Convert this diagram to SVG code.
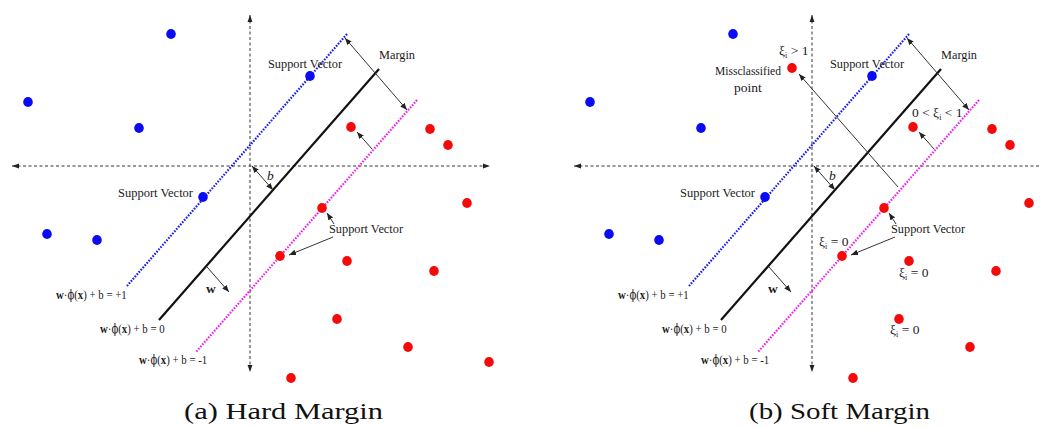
<svg xmlns="http://www.w3.org/2000/svg" width="1040" height="428" viewBox="0 0 1040 428">
<style>
.t{font-family:"Liberation Serif","Times New Roman",serif;font-size:13.5px;fill:#1a1a1a}
.eq{font-family:"Liberation Serif","Times New Roman",serif;font-size:13.5px;fill:#1a1a1a}
.phi{font-family:"DejaVu Serif",serif;font-size:12.5px}
.cap{font-family:"Liberation Serif","Times New Roman",serif;font-size:24px;fill:#111}
.axis{stroke:#333;stroke-width:1;stroke-dasharray:3 2.5;fill:none}
.thin{stroke:#333;stroke-width:1;fill:none}
.blue{fill:#0a0af5}
.red{fill:#f50a0a}
.lb{stroke:#1a1af0;stroke-width:2.2;stroke-dasharray:1.6 1.4;fill:none}
.lk{stroke:#111;stroke-width:2.2;fill:none}
.lm{stroke:#f020f0;stroke-width:2.2;stroke-dasharray:1.6 1.4;fill:none}
</style>
<defs>
<marker id="ah" viewBox="0 0 10 10" refX="10" refY="5" markerWidth="7" markerHeight="7" markerUnits="userSpaceOnUse" orient="auto-start-reverse"><path d="M0,1 L10,5 L0,9 z" fill="#222"/></marker>
<marker id="ax" viewBox="0 0 10 10" refX="10" refY="5" markerWidth="7" markerHeight="7" markerUnits="userSpaceOnUse" orient="auto-start-reverse"><path d="M0,1.5 L10,5 L0,8.5 z" fill="#222"/></marker>
</defs>
<rect width="1040" height="428" fill="#ffffff"/>

<!-- Panel (a) -->
<g id="panel-a">
  <g id="a-axes">
    <line class="axis" x1="12" y1="166" x2="490" y2="166" marker-start="url(#ax)" marker-end="url(#ax)"/>
    <line class="axis" x1="250" y1="15" x2="250" y2="372" marker-start="url(#ax)" marker-end="url(#ax)"/>
  </g>
  <g id="a-hyperplanes">
    <line class="lb" x1="347" y1="34" x2="127" y2="286"/>
    <line class="lk" x1="379" y1="69" x2="159" y2="320"/>
    <line class="lm" x1="417" y1="100" x2="196" y2="352"/>
  </g>
  <g id="a-connectors">
    <line class="thin" x1="345" y1="38" x2="407" y2="110" marker-start="url(#ah)" marker-end="url(#ah)"/>
    <line class="thin" x1="252" y1="166" x2="273" y2="190" marker-start="url(#ah)" marker-end="url(#ah)"/>
    <line class="thin" x1="207" y1="267" x2="229" y2="292" marker-end="url(#ah)"/>
    <line class="thin" x1="372" y1="149" x2="357" y2="132" marker-end="url(#ah)"/>
    <line class="thin" x1="334" y1="224" x2="327" y2="213" marker-end="url(#ah)"/>
    <line class="thin" x1="333" y1="237" x2="289" y2="255" marker-end="url(#ah)"/>
  </g>
  <g id="a-points">
    <g id="a-b1"><ellipse class="blue" cx="171" cy="34" rx="4.8" ry="5.1"/></g>
    <g id="a-b2"><ellipse class="blue" cx="28" cy="102" rx="4.8" ry="5.1"/></g>
    <g id="a-b3"><ellipse class="blue" cx="139" cy="128" rx="4.8" ry="5.1"/></g>
    <g id="a-b4"><ellipse class="blue" cx="310" cy="76" rx="4.8" ry="5.1"/></g>
    <g id="a-b5"><ellipse class="blue" cx="203" cy="197" rx="4.8" ry="5.1"/></g>
    <g id="a-b6"><ellipse class="blue" cx="47" cy="234" rx="4.8" ry="5.1"/></g>
    <g id="a-b7"><ellipse class="blue" cx="97" cy="240" rx="4.8" ry="5.1"/></g>
    <g id="a-r1"><ellipse class="red" cx="351" cy="127" rx="4.8" ry="5.1"/></g>
    <g id="a-r2"><ellipse class="red" cx="430" cy="129" rx="4.8" ry="5.1"/></g>
    <g id="a-r3"><ellipse class="red" cx="448" cy="145" rx="4.8" ry="5.1"/></g>
    <g id="a-r4"><ellipse class="red" cx="467" cy="203" rx="4.8" ry="5.1"/></g>
    <g id="a-r5"><ellipse class="red" cx="322" cy="208" rx="4.8" ry="5.1"/></g>
    <g id="a-r6"><ellipse class="red" cx="280" cy="256" rx="4.8" ry="5.1"/></g>
    <g id="a-r7"><ellipse class="red" cx="347" cy="261" rx="4.8" ry="5.1"/></g>
    <g id="a-r8"><ellipse class="red" cx="434" cy="271" rx="4.8" ry="5.1"/></g>
    <g id="a-r9"><ellipse class="red" cx="337" cy="319" rx="4.8" ry="5.1"/></g>
    <g id="a-r10"><ellipse class="red" cx="408" cy="347" rx="4.8" ry="5.1"/></g>
    <g id="a-r11"><ellipse class="red" cx="489" cy="362" rx="4.8" ry="5.1"/></g>
    <g id="a-r12"><ellipse class="red" cx="291" cy="378" rx="4.8" ry="5.1"/></g>
  </g>
  <g id="a-labels">
    <g id="a-margin"><text class="t" x="379" y="59" textLength="36" lengthAdjust="spacingAndGlyphs">Margin</text></g>
    <g id="a-sv1"><text class="t" x="268" y="68" textLength="74" lengthAdjust="spacingAndGlyphs">Support Vector</text></g>
    <g id="a-sv2"><text class="t" x="118" y="197" textLength="75" lengthAdjust="spacingAndGlyphs">Support Vector</text></g>
    <g id="a-sv3"><text class="t" x="329" y="233" textLength="74" lengthAdjust="spacingAndGlyphs">Support Vector</text></g>
    <g id="a-b"><text class="t" x="267" y="180" font-style="italic" font-size="14">b</text></g>
    <g id="a-w"><text class="t" x="206" y="293" font-weight="bold">w</text></g>
    <g id="a-eq1" transform="translate(56,299) scale(0.8,1)"><text class="eq" x="0" y="0"><tspan font-weight="bold">w</tspan>·<tspan class="phi">ϕ</tspan>(<tspan font-weight="bold">x</tspan>) + b = +1</text></g>
    <g id="a-eq0" transform="translate(100,333) scale(0.8,1)"><text class="eq" x="0" y="0"><tspan font-weight="bold">w</tspan>·<tspan class="phi">ϕ</tspan>(<tspan font-weight="bold">x</tspan>) + b = 0</text></g>
    <g id="a-eqm1" transform="translate(139,364) scale(0.8,1)"><text class="eq" x="0" y="0"><tspan font-weight="bold">w</tspan>·<tspan class="phi">ϕ</tspan>(<tspan font-weight="bold">x</tspan>) + b = -1</text></g>
  </g>
</g>

<!-- Panel (b) -->
<g id="panel-b" transform="translate(562,0)">
  <g id="b-axes">
    <line class="axis" x1="12" y1="166" x2="490" y2="166" marker-start="url(#ax)" marker-end="url(#ax)"/>
    <line class="axis" x1="250" y1="15" x2="250" y2="372" marker-start="url(#ax)" marker-end="url(#ax)"/>
  </g>
  <g id="b-hyperplanes">
    <line class="lb" x1="347" y1="34" x2="127" y2="286"/>
    <line class="lk" x1="379" y1="69" x2="159" y2="320"/>
    <line class="lm" x1="417" y1="100" x2="196" y2="352"/>
  </g>
  <g id="b-connectors">
    <line class="thin" x1="345" y1="38" x2="407" y2="110" marker-start="url(#ah)" marker-end="url(#ah)"/>
    <line class="thin" x1="252" y1="166" x2="273" y2="190" marker-start="url(#ah)" marker-end="url(#ah)"/>
    <line class="thin" x1="207" y1="267" x2="229" y2="292" marker-end="url(#ah)"/>
    <line class="thin" x1="372" y1="149" x2="357" y2="132" marker-end="url(#ah)"/>
    <line class="thin" x1="334" y1="224" x2="327" y2="213" marker-end="url(#ah)"/>
    <line class="thin" x1="333" y1="237" x2="289" y2="255" marker-end="url(#ah)"/>
    <line class="thin" x1="336" y1="187" x2="237" y2="74" marker-end="url(#ah)"/>
  </g>
  <g id="b-points">
    <g id="b-b1"><ellipse class="blue" cx="171" cy="34" rx="4.8" ry="5.1"/></g>
    <g id="b-b2"><ellipse class="blue" cx="28" cy="102" rx="4.8" ry="5.1"/></g>
    <g id="b-b3"><ellipse class="blue" cx="139" cy="128" rx="4.8" ry="5.1"/></g>
    <g id="b-b4"><ellipse class="blue" cx="310" cy="76" rx="4.8" ry="5.1"/></g>
    <g id="b-b5"><ellipse class="blue" cx="203" cy="197" rx="4.8" ry="5.1"/></g>
    <g id="b-b6"><ellipse class="blue" cx="47" cy="234" rx="4.8" ry="5.1"/></g>
    <g id="b-b7"><ellipse class="blue" cx="97" cy="240" rx="4.8" ry="5.1"/></g>
    <g id="b-mis"><ellipse class="red" cx="230" cy="68" rx="4.8" ry="5.1"/></g>
    <g id="b-r1"><ellipse class="red" cx="351" cy="127" rx="4.8" ry="5.1"/></g>
    <g id="b-r2"><ellipse class="red" cx="430" cy="129" rx="4.8" ry="5.1"/></g>
    <g id="b-r3"><ellipse class="red" cx="448" cy="145" rx="4.8" ry="5.1"/></g>
    <g id="b-r4"><ellipse class="red" cx="467" cy="203" rx="4.8" ry="5.1"/></g>
    <g id="b-r5"><ellipse class="red" cx="322" cy="208" rx="4.8" ry="5.1"/></g>
    <g id="b-r6"><ellipse class="red" cx="280" cy="256" rx="4.8" ry="5.1"/></g>
    <g id="b-r7"><ellipse class="red" cx="347" cy="261" rx="4.8" ry="5.1"/></g>
    <g id="b-r8"><ellipse class="red" cx="434" cy="271" rx="4.8" ry="5.1"/></g>
    <g id="b-r9"><ellipse class="red" cx="337" cy="319" rx="4.8" ry="5.1"/></g>
    <g id="b-r10"><ellipse class="red" cx="408" cy="347" rx="4.8" ry="5.1"/></g>
    <g id="b-r11"><ellipse class="red" cx="489" cy="362" rx="4.8" ry="5.1"/></g>
    <g id="b-r12"><ellipse class="red" cx="291" cy="378" rx="4.8" ry="5.1"/></g>
  </g>
  <g id="b-labels">
    <g id="b-margin"><text class="t" x="379" y="59" textLength="36" lengthAdjust="spacingAndGlyphs">Margin</text></g>
    <g id="b-sv1"><text class="t" x="268" y="68" textLength="74" lengthAdjust="spacingAndGlyphs">Support Vector</text></g>
    <g id="b-sv2"><text class="t" x="118" y="197" textLength="75" lengthAdjust="spacingAndGlyphs">Support Vector</text></g>
    <g id="b-sv3"><text class="t" x="329" y="233" textLength="74" lengthAdjust="spacingAndGlyphs">Support Vector</text></g>
    <g id="b-b"><text class="t" x="267" y="180" font-style="italic" font-size="14">b</text></g>
    <g id="b-w"><text class="t" x="206" y="293" font-weight="bold">w</text></g>
    <g id="b-eq1" transform="translate(56,299) scale(0.8,1)"><text class="eq" x="0" y="0"><tspan font-weight="bold">w</tspan>·<tspan class="phi">ϕ</tspan>(<tspan font-weight="bold">x</tspan>) + b = +1</text></g>
    <g id="b-eq0" transform="translate(100,333) scale(0.8,1)"><text class="eq" x="0" y="0"><tspan font-weight="bold">w</tspan>·<tspan class="phi">ϕ</tspan>(<tspan font-weight="bold">x</tspan>) + b = 0</text></g>
    <g id="b-eqm1" transform="translate(139,364) scale(0.8,1)"><text class="eq" x="0" y="0"><tspan font-weight="bold">w</tspan>·<tspan class="phi">ϕ</tspan>(<tspan font-weight="bold">x</tspan>) + b = -1</text></g>
    <g id="b-xi-gt1"><text class="t" x="217" y="55">ξ<tspan font-size="8" dy="3">i</tspan><tspan dy="-3"> &gt; 1</tspan></text></g>
    <g id="b-miss"><text class="t" x="153" y="75" textLength="66" lengthAdjust="spacingAndGlyphs">Missclassified</text><text class="t" x="186" y="92" text-anchor="middle">point</text></g>
    <g id="b-xi-mid"><text class="t" x="350" y="117">0 &lt; ξ<tspan font-size="8" dy="3">i</tspan><tspan dy="-3"> &lt; 1</tspan></text></g>
    <g id="b-xi0a"><text class="t" x="257" y="246">ξ<tspan font-size="8" dy="3">i</tspan><tspan dy="-3"> = 0</tspan></text></g>
    <g id="b-xi0b"><text class="t" x="337" y="277">ξ<tspan font-size="8" dy="3">i</tspan><tspan dy="-3"> = 0</tspan></text></g>
    <g id="b-xi0c"><text class="t" x="328" y="334">ξ<tspan font-size="8" dy="3">i</tspan><tspan dy="-3"> = 0</tspan></text></g>
  </g>
</g>

<g id="captions">
  <text class="cap" x="184" y="419" textLength="199" lengthAdjust="spacingAndGlyphs">(a) Hard Margin</text>
  <text class="cap" x="749" y="419" textLength="181" lengthAdjust="spacingAndGlyphs">(b) Soft Margin</text>
</g>
</svg>
